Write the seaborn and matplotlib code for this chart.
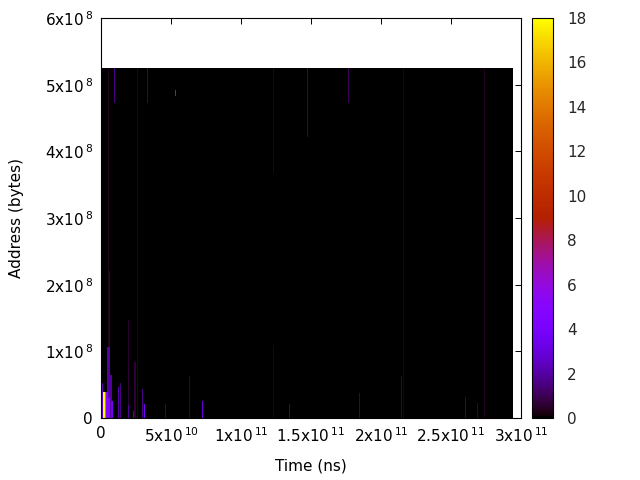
import numpy as np
import matplotlib
matplotlib.use("Agg")
import matplotlib.pyplot as plt
import seaborn as sns

# ---------------- data ----------------
T_UNIT = 1e9      # time values below are in units of 1e9 ns
A_UNIT = 1e6      # address values below are in units of 1e6 bytes

time_bin_width = 0.7
time_max = 294.0
addr_bin_width = 1.5
addr_max = 525.0

# access streaks (later entries paint over earlier ones)
streak_t_start = [5.0, 25.7, 215.9, 273.9,
                  5.7, 0.2, 4.3, 1.4, 2.8, 3.6, 5.0, 6.4, 7.1, 9.3, 12.1, 13.4,
                  19.3, 19.3, 22.9, 24.1, 29.5, 30.7, 33.0, 45.2, 52.4, 52.4,
                  52.4, 52.4, 63.1, 71.8, 123.1, 123.1, 134.5, 146.8, 176.6,
                  184.1, 192.4, 213.9, 259.5, 268.8]
streak_t_end = [5.7, 26.4, 216.6, 274.6,
                6.4, 1.4, 6.4, 2.8, 3.6, 5.0, 6.4, 7.9, 8.6, 10.0, 12.9, 14.1,
                20.0, 20.0, 24.1, 25.0, 30.2, 31.6, 33.7, 45.9, 53.1, 53.1,
                53.1, 53.8, 63.8, 72.5, 123.8, 123.8, 135.2, 147.5, 177.3,
                184.8, 193.1, 214.6, 260.2, 269.5]
streak_addr_low = [0, 0, 0, 0,
                   106, 0, 0, 0, 0, 0, 0, 0, 0, 472, 0, 0,
                   0, 0, 0, 0, 0, 0, 472, 0, 0, 0,
                   472, 483, 0, 0, 367, 0, 0, 421, 472,
                   0, 159, 0, 0, 0]
streak_addr_high = [525, 525, 525, 525,
                    221, 52, 106, 39, 39, 39, 30, 64.5, 26, 525, 47, 53,
                    147, 19.5, 10.5, 84.5, 43.5, 21, 525, 21, 26, 4.5,
                    525, 492, 63.5, 26, 525, 109.5, 21, 525, 525,
                    37.5, 525, 63.5, 32, 22.5]
streak_count = [0.4, 0.4, 0.3, 0.4,
                0.8, 2.2, 2.0, 18, 14, 4.5, 4.5, 2.0, 3.5, 1.5, 2.0, 1.5,
                0.6, 1.8, 2.0, 0.7, 1.5, 3.5, 1.0, 1.0, 1.0, 3.0,
                1.3, 4.5, 0.8, 3.0, 0.4, 0.4, 1.3, 1.0, 1.0,
                1.0, 1.0, 1.0, 1.0, 0.8]

x_tick_values = [0, 5e10, 1e11, 1.5e11, 2e11, 2.5e11, 3e11]
x_tick_labels = ["0", r"5x10$^{\,10}$", r"1x10$^{\,11}$", r"1.5x10$^{\,11}$",
                 r"2x10$^{\,11}$", r"2.5x10$^{\,11}$", r"3x10$^{\,11}$"]
y_tick_values = [0, 1e8, 2e8, 3e8, 4e8, 5e8, 6e8]
y_tick_labels = ["0", r"1x10$^{\,8}$", r"2x10$^{\,8}$", r"3x10$^{\,8}$",
                 r"4x10$^{\,8}$", r"5x10$^{\,8}$", r"6x10$^{\,8}$"]
cbar_ticks = [0, 2, 4, 6, 8, 10, 12, 14, 16, 18]

# ---------------- build the grid ----------------
t_edges = np.arange(0, time_max + time_bin_width / 2, time_bin_width)
a_edges = np.arange(0, addr_max + addr_bin_width / 2, addr_bin_width)
t_cent = (t_edges[:-1] + t_edges[1:]) / 2
a_cent = (a_edges[:-1] + a_edges[1:]) / 2
grid = np.zeros((len(t_cent), len(a_cent)))
for t0, t1, a0, a1, c in zip(streak_t_start, streak_t_end, streak_addr_low,
                             streak_addr_high, streak_count):
    ti = (t_cent >= t0) & (t_cent < t1)
    ai = (a_cent >= a0) & (a_cent < a1)
    grid[np.ix_(ti, ai)] = c
ii, jj = np.nonzero(grid)
pts_t = t_cent[ii] * T_UNIT
pts_a = a_cent[jj] * A_UNIT
pts_w = grid[ii, jj]

# ---------------- plot ----------------
sns.set_style("white")
plt.rcParams["font.family"] = ["DejaVu Sans"]
plt.rcParams["mathtext.fontset"] = "dejavusans"
FS = 11

fig = plt.figure(figsize=(6.4, 4.8), dpi=100)
ax = fig.add_axes([101 / 640, 62 / 480, 420 / 640, 400 / 480])
cax = fig.add_axes([532 / 640, 62 / 480, 21 / 640, 400 / 480])

sns.histplot(x=pts_t, y=pts_a, weights=pts_w,
             bins=(t_edges * T_UNIT, a_edges * A_UNIT),
             thresh=None, cmap="gnuplot", vmin=0, vmax=18,
             cbar=True, cbar_ax=cax, ax=ax)

ax.set_xlim(0, 3e11)
ax.set_ylim(0, 6e8)
ax.set_xticks(x_tick_values)
ax.set_xticklabels(x_tick_labels, fontsize=FS)
ax.set_yticks(y_tick_values)
ax.set_yticklabels(y_tick_labels, fontsize=FS)
ax.tick_params(direction="in", top=True, right=True, length=4.5, width=0.7,
               color="black", labelcolor="black", pad=6)
ax.set_xlabel("Time (ns)", fontsize=FS, color="black", labelpad=10)
ax.set_ylabel("Address (bytes)", fontsize=FS, color="black", labelpad=15)
for s in ax.spines.values():
    s.set_color("black")
    s.set_linewidth(0.8)
    s.set_visible(True)
ax.set_facecolor("white")

cax.set_yticks(cbar_ticks)
cax.set_ylim(0, 18)
cax.tick_params(direction="in", left=True, right=True, labelleft=False,
                labelright=True, length=4.5, width=0.7, color="black",
                labelsize=FS, pad=10)
for s in cax.spines.values():
    s.set_color("black")
    s.set_linewidth(0.8)

fig.savefig("out.png", dpi=100)
